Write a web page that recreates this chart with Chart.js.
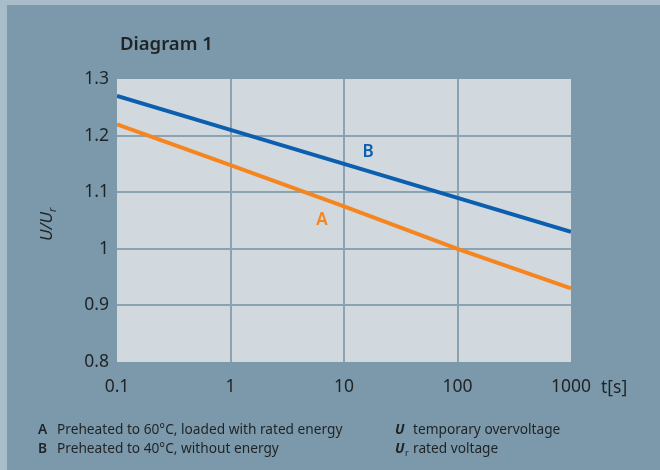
<!DOCTYPE html>
<html>
<head>
<meta charset="utf-8">
<script src="https://cdn.jsdelivr.net/npm/chart.js@4/dist/chart.umd.min.js"></script>
<style>
  html, body { margin: 0; padding: 0; background: #a8bdc9; }
  #wrap { position: absolute; left: 7px; top: 5px; width: 653px; height: 465px; background: #7b99aa; }
  #c { position: absolute; left: 0; top: 0; }
</style>
</head>
<body>
<div id="wrap"><canvas id="c" width="653" height="465"></canvas></div>
<script>
// ---- data ----
const timesS = [0.1, 1, 10, 100, 1000];
const seriesA = [1.22, 1.148, 1.075, 1.0, 0.93];   // Preheated to 60°C, loaded with rated energy
const seriesB = [1.27, 1.21, 1.15, 1.09, 1.03];    // Preheated to 40°C, without energy
const xTickValues = [0.1, 1, 10, 100, 1000];
const xTickLabels = ['0.1', '1', '10', '100', '1000'];
const yTickValues = [0.8, 0.9, 1.0, 1.1, 1.2, 1.3];
const yTickLabels = ['0.8', '0.9', '1', '1.1', '1.2', '1.3'];
const curveLabels = [
  { text: 'A', t: 6.4, u: 1.051, color: '#f5861f' },
  { text: 'B', t: 16.3, u: 1.171, color: '#0b5fae' }
];

const FONT = '"Noto Sans", "Open Sans", sans-serif';
const TXT = '#1f2326';

const bgPlugin = {
  id: 'bgPlugin',
  beforeDraw(chart) {
    const { ctx, chartArea: a } = chart;
    ctx.save();
    ctx.fillStyle = '#d1d9df';
    ctx.fillRect(a.left, a.top, a.right - a.left, a.bottom - a.top);
    ctx.restore();
  }
};

const textPlugin = {
  id: 'textPlugin',
  afterDatasetsDraw(chart) {
    const { ctx, scales } = chart;
    ctx.save();
    ctx.textAlign = 'center';
    ctx.textBaseline = 'middle';
    ctx.font = '600 17px ' + FONT;
    curveLabels.forEach(l => {
      ctx.fillStyle = l.color;
      ctx.fillText(l.text, scales.x.getPixelForValue(l.t), scales.y.getPixelForValue(l.u));
    });
    ctx.restore();
  },
  afterDraw(chart) {
    const { ctx } = chart;
    ctx.save();
    ctx.fillStyle = TXT;
    ctx.textBaseline = 'alphabetic';
    ctx.textAlign = 'left';
    // title
    ctx.font = '600 18.5px ' + FONT;
    ctx.fillText('Diagram 1', 113, 45);
    // x unit
    ctx.font = '17.5px ' + FONT;
    ctx.fillText('t[s]', 594, 388);
    // y axis title, rotated
    ctx.save();
    ctx.translate(45, 236);
    ctx.rotate(-Math.PI / 2);
    ctx.font = 'italic 17px ' + FONT;
    ctx.fillText('U/U', 0, 0);
    const w = ctx.measureText('U/U').width;
    ctx.font = 'italic 11px ' + FONT;
    ctx.fillText('r', w, 4);
    ctx.restore();
    // footnotes
    ctx.font = '600 13.7px ' + FONT;
    ctx.fillText('A', 31, 429);
    ctx.fillText('B', 31, 448);
    ctx.font = '13.7px ' + FONT;
    ctx.fillText('Preheated to 60\u00B0C, loaded with rated energy', 50, 429);
    ctx.fillText('Preheated to 40\u00B0C, without energy', 50, 448);
    ctx.font = 'italic 700 13.7px ' + FONT;
    ctx.fillText('U', 388, 429);
    ctx.fillText('U', 388, 448);
    ctx.font = '9px ' + FONT;
    ctx.fillText('r', 398, 451);
    ctx.font = '13.7px ' + FONT;
    ctx.fillText('temporary overvoltage', 406, 429);
    ctx.fillText('rated voltage', 406, 448);
    ctx.restore();
  }
};

function edgeTransparent(ctx) {
  const n = ctx.chart.scales[ctx.scale.id].ticks.length;
  return (ctx.index === 0 || ctx.index === n - 1) ? 'rgba(0,0,0,0)' : '#8aa3b3';
}

new Chart(document.getElementById('c'), {
  type: 'line',
  data: {
    datasets: [
      { label: 'A', data: timesS.map((t, i) => ({ x: t, y: seriesA[i] })), borderColor: '#f5861f', borderWidth: 4, pointRadius: 0, tension: 0 },
      { label: 'B', data: timesS.map((t, i) => ({ x: t, y: seriesB[i] })), borderColor: '#0b5fae', borderWidth: 4, pointRadius: 0, tension: 0 }
    ]
  },
  options: {
    responsive: false,
    animation: false,
    events: [],
    layout: { padding: { left: 0, top: 74, right: 89, bottom: 0 } },
    plugins: { legend: { display: false }, tooltip: { enabled: false } },
    scales: {
      x: {
        type: 'logarithmic',
        min: 0.1, max: 1000,
        afterBuildTicks(s) { s.ticks = xTickValues.map(v => ({ value: v })); },
        afterFit(s) { s.height = 108; },
        ticks: {
          autoSkip: false, maxRotation: 0, padding: 15,
          color: TXT, font: { family: FONT, size: 17.5 },
          callback: (v, i) => xTickLabels[i]
        },
        grid: { color: edgeTransparent, lineWidth: 2, drawTicks: false },
        border: { display: false }
      },
      y: {
        type: 'linear',
        min: 0.8, max: 1.3,
        afterBuildTicks(s) { s.ticks = yTickValues.map(v => ({ value: v })); },
        afterFit(s) { s.width = 110; },
        ticks: {
          autoSkip: false, padding: 8,
          color: TXT, font: { family: FONT, size: 17.5 },
          callback: (v, i) => yTickLabels[i]
        },
        grid: { color: edgeTransparent, lineWidth: 2, drawTicks: false },
        border: { display: false }
      }
    }
  },
  plugins: [bgPlugin, textPlugin]
});
</script>
</body>
</html>
